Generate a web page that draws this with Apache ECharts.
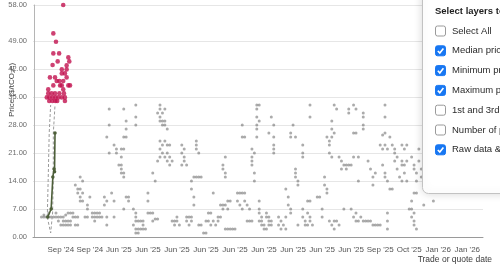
<!DOCTYPE html>
<html><head><meta charset="utf-8">
<script src="https://cdn.jsdelivr.net/npm/echarts@6/dist/echarts.min.js"></script>
<style>html,body{margin:0;padding:0;background:#fff;overflow:hidden}#c{width:500px;height:276px}</style>
</head><body><div id="c"></div>
<script>
// ---- data ----
const xTickLabels = ["Sep '24","Sep '24","Jun '25","Jun '25","Jun '25","Jun '25","Jun '25","Jun '25","Jun '25","Jun '25","Jun '25","Sep '25","Oct '25","Jan '26","Jan '26"];
const columnCount = 186;           // trade/quote date slots on the axis
const firstTickIndex = 11;
const tickStep = 12;
const yTicks = [0, 7, 14, 21, 28, 35, 42, 49, 58];

// raw trades / quotes: [date slot, price]
const rawData = [
[3,5],[4,5],[5,5],[6,5],[7,5],[8,5],[9,5],[10,5],[11,5],[12,5],[13,5.5],[4,5.5],[6,6],[9,6],[10,4],[12,4],[13,4],[14,4],[15,4],[11,3],[12,3],[13,3],[14,3],[15,3],[14,6],[15,6],[16,6],[16,5],
[17,13],[17,5],[17,3],[18,12],[18,11],[18,5],[18,3],[19,10],[19,9],[19,15],[20,14],[20,11],[20,9],[19,12],
[21,5],[22,5],[22,7],[22,8],[23,10],[24,6],[24,5],[25,6],[25,5],[25,4],[26,6],[26,5],[27,6],[27,5],[28,5],[29,10],[29,8],[30,9],[30,5],[30,3],
[30,25],[31,21],[31,32],[31,28],[32,11],[33,9],[33,5],[33,23],[34,22],[34,21],[35,18],[36,17],[36,16],[36,22],[36,20],[36,18],[37,22],[37,16],[37,15],[37,7],[37,25],[37,32],[38,25],[38,10],[38,29],[38,27],
[39,10],[39,9],[41,7],[41,3],[42,6],[42,5],[42,4],[43,4],[44,4],[45,4],[42,2],[43,2],[44,2],[45,2],[46,2],[42,1],[43,1],[45,3],[42,33],[42,30],[42,28],
[47,11],[47,9],[47,6],[48,6],[49,6],[49,4],[49,16],[50,14],[51,19],[50,4.5],[51,4.5],
[52,33],[52,32],[54,32],[51,31],[53,31],[52,30],[52,29],[53,29],[54,29],[53,28],[54,28],[55,27],
[52,24],[53,23],[54,24],[55,23],[56,23],[52,22],[53,21],[54,20],[55,19],[56,18],[52,20],[55,21],[56,20],[57,19],
[57,4],[58,3],[59,5],[59,4],[60,3],[58,4],
[61,23],[61,21],[62,22],[62,20],[62,19],[63,18],[61,18],
[63,5],[63,4],[64,3],[65,4],[65,5],[64,5],
[65,14],[65,12],[66,10],[66,8],[66,15],
[67,24],[67,22],[68,21],[67,23],[67,15],[68,15],[69,15],[68,3],[69,3],[70,1],[71,1],
[71,4],[72,4],[73,3],[74,4],[75,3],[76,4],[72,6],[73,6],[74,11],
[76,5],[77,5],[77,8],[78,7],[79,8],[80,7],[80,9],[79,20],[78,18],[78,17],[79,16],[79,15],[78,8],
[79,2],[80,2],[81,2],[82,2],[83,2],[81,9],
[84,9],[85,8],[86,7],[87,9],[88,8],[89,7],[84,11],[85,11],[86,11],[87,11],[86,25],[88,4],[89,4],[90,4],
[90,22],[90,20],[90,18],[91,21],[90,19],[91,16],[91,14],[92,25],
[86,28],[87,25],[92,33],[92,32],[92,30],[93,29],[92,28],[92,27],[93,33],
[93,6],[94,5],[94,4],[95,3],[96,2],[96,5],[97,4],[97,3],[93,4],[93,9],[93,7],[94,3],[95,2],
[97,26],[99,23],[99,22],[99,21],[96,6],[97,5],[98,4],[98,3],[98,30],[99,28],[99,25],
[101,5],[101,3],[102,4],[102,2],[103,3],[104,5],[104,2],[104,12],
[105,10],[105,8],[106,7],[106,6],[106,25],[108,25],[107,28],[106,26],
[108,17],[108,15],[109,14],[109,13],[108,16],[109,3],
[111,23],[111,21],[111,20],[111,7],[111,5],[112,4],[112,3],[113,6],[114,4],[114,5],[115,3],[113,3],[113,9],[114,9],[114,33],[114,30],
[117,10],[118,10],[119,7],[119,5],[120,15],[120,13],[121,11],[121,12],
[121,25],[122,23],[122,21],[123,20],[122,24],[123,27],[123,29],[123,25],[124,33],[125,32],[124,26],
[122,4],[123,3],[124,2],[125,4],[126,3],[124,4],
[126,20],[127,19],[128,18],[129,17],[127,17],[128,7],[129,18],[130,18],[131,18],[130,32],[130,31],
[132,26],[131,7],[132,5],[133,6],[134,4],[135,5],[133,4],[132,20],[134,20],[134,14],[132,33],[133,32],[133,26],
[136,4],[137,4],[138,4],[139,4],[138,19],[139,17],[140,15],[140,13],[141,16],[136,31],[136,30],[136,28],[136,27],
[140,3],[141,3],[142,3],[143,3],
[143,23],[144,22],[145,23],[146,22],[144,25.5],[144,18],[145,16],[146,14],[145,15],[145,33],[145,30],[145,26],
[146,6],[146,4],[146,2],[147,12],[148,12],[147,25],
[148,23],[149,21],[150,20],[149,22],[149,19],[150,17],[151,15],[152,18],[153,16],[154,14],[152,14],
[152,23],[153,22],[154,23],[152,19],[153,18],[154,19],
[155,7],[156,9],[156,7],[156,5],[157,4],[157,3],[158,2],[157,6],[157,11],[158,11],
[156,20],[157,18],[158,16],[158,14],[157,17],
[159,22],[159,19],[160,17],[160,15],[161,8],[165,9]
];

// highlighted (early) trades: [date position, price]
const highPoints = [
[12.0,58],[7.9,50.9],[9.0,48.8],[7.9,45.9],[10.3,45.9],[14.1,44.9],[9.7,43.9],[14.5,43.9],[7.6,43],[13.4,42.9],
[11.4,41.9],[13.4,41.9],[11.4,40.9],[12.7,40.9],[6.5,39.9],[8.6,39.9],[13.4,39.9],[9.3,39],[10.4,39],[12.0,39],
[7.9,37.9],[10.7,37.9],[11.4,37.9],[14.1,37.9],[14.8,37.9],[5.8,36.9],[12.0,36.9],
[5.8,35.9],[7.2,35.9],[8.6,35.9],[10.4,35.9],[12.3,35.9],
[5.2,34.9],[6.3,34.9],[7.6,34.9],[8.8,34.9],[10.0,34.9],[11.4,34.9],[12.7,34.9],
[6.2,34],[7.5,34],[8.7,34],[9.5,34],[12.7,34]
];

const medianPrice = [[5.6,5],[7.0,7],[7.7,15],[8.2,17],[8.4,16.3],[8.6,26]];
const maxPrice = [[5.4,5],[5.8,15],[6.2,26],[6.8,33]];
const minPrice = [[5.4,5],[6.8,1],[7.6,6],[7.9,15],[7.9,26],[8.6,33]];

const layerTitle = "Select layers to display";
const layerNames = ["Select All","Median price","Minimum price","Maximum price","1st and 3rd quartile","Number of points","Raw data & outliers"];
const layerChecked = [false,true,true,true,false,false,true];

// ---- chart ----
const FONT = "'Liberation Sans', Arial, sans-serif";
const chart = echarts.init(document.getElementById('c'), null, {renderer:'canvas'});

const xTickValues = xTickLabels.map((_, i) => firstTickIndex + i * tickStep);

const graphics = [];
graphics.push({type:'text', x:12, y:90, rotation:Math.PI/2, z:10,
  style:{text:'Price ($/tCO₂e)', font:'8px ' + FONT, fill:'#444', align:'center', verticalAlign:'middle'}});
graphics.push({type:'text', x:492, y:259.5, z:10,
  style:{text:'Trade or quote date', font:'8.5px ' + FONT, fill:'#3a3a3a', align:'right', verticalAlign:'middle'}});
graphics.push({type:'rect', z:20, shape:{x:422.5, y:-12, width:110, height:205.5, r:6},
  style:{fill:'#fff', stroke:'#c2c2c2', lineWidth:1, shadowBlur:10, shadowColor:'rgba(0,0,0,0.16)'}});
graphics.push({type:'text', x:435, y:11, z:21,
  style:{text:layerTitle, font:'bold 9.5px ' + FONT, fill:'#1f1f1f', verticalAlign:'middle'}});
layerNames.forEach((name, i) => {
  const cy = 31 + i * 19.8;
  const on = layerChecked[i];
  graphics.push({type:'rect', z:21, shape:{x:435.5, y:cy - 5, width:10, height:10, r:2},
    style:{fill: on ? '#1877f2' : '#fff', stroke: on ? '#1877f2' : '#9a9a9a', lineWidth:1}});
  if (on) {
    graphics.push({type:'polyline', z:22, shape:{points:[[437.8, cy + 0.2],[439.8, cy + 2.3],[443.4, cy - 2.4]]},
      style:{stroke:'#fff', lineWidth:1.6, fill:null}});
  }
  graphics.push({type:'text', x:452, y:cy, z:21,
    style:{text:name, font:'9.5px ' + FONT, fill:'#2a2a2a', verticalAlign:'middle'}});
});

chart.setOption({
  animation:false,
  textStyle:{fontFamily:FONT},
  grid:{left:33, right:17, top:5, bottom:39, containLabel:false, outerBoundsMode:'none'},
  xAxis:{
    type:'value', min:-0.5, max:columnCount - 0.5,
    axisLine:{show:true, lineStyle:{color:'#9a9a9a', width:1}},
    axisTick:{show:false},
    splitLine:{show:false},
    axisLabel:{customValues:xTickValues, fontSize:8, color:'#555', margin:9, hideOverlap:false,
      formatter:(v) => { const k = Math.round((v - firstTickIndex) / tickStep); return xTickLabels[k] || ''; }}
  },
  yAxis:{
    type:'value', min:0, max:58,
    axisLine:{show:true, lineStyle:{color:'#b5b5b5'}},
    axisTick:{show:false, customValues:yTicks},
    splitLine:{show:true, lineStyle:{color:'#e6e6e6', width:1}},
    axisLabel:{customValues:yTicks, fontSize:7.5, color:'#6b6b6b', margin:6,
      formatter:(v) => v.toFixed(2)}
  },
  series:[
    {type:'scatter', name:'Raw data', data:rawData, symbol:'circle', symbolSize:3, z:2,
      itemStyle:{color:'rgba(105,105,105,0.7)'}},
    {type:'line', name:'Maximum price', data:maxPrice, symbol:'none', z:3,
      lineStyle:{color:'#9a9a9a', width:1, type:[3,2]}},
    {type:'line', name:'Minimum price', data:minPrice, symbol:'none', z:3,
      lineStyle:{color:'#9a9a9a', width:1, type:[3,2]}},
    {type:'line', name:'Median price', data:medianPrice, symbol:'circle', symbolSize:3.5, z:4,
      lineStyle:{color:'#4d5f39', width:1.6}, itemStyle:{color:'#4d5f39'}},
    {type:'scatter', name:'Highlighted', data:highPoints, symbol:'circle', symbolSize:4.6, z:5,
      itemStyle:{color:'#c2114f'}}
  ],
  graphic:graphics
});
</script></body></html>
